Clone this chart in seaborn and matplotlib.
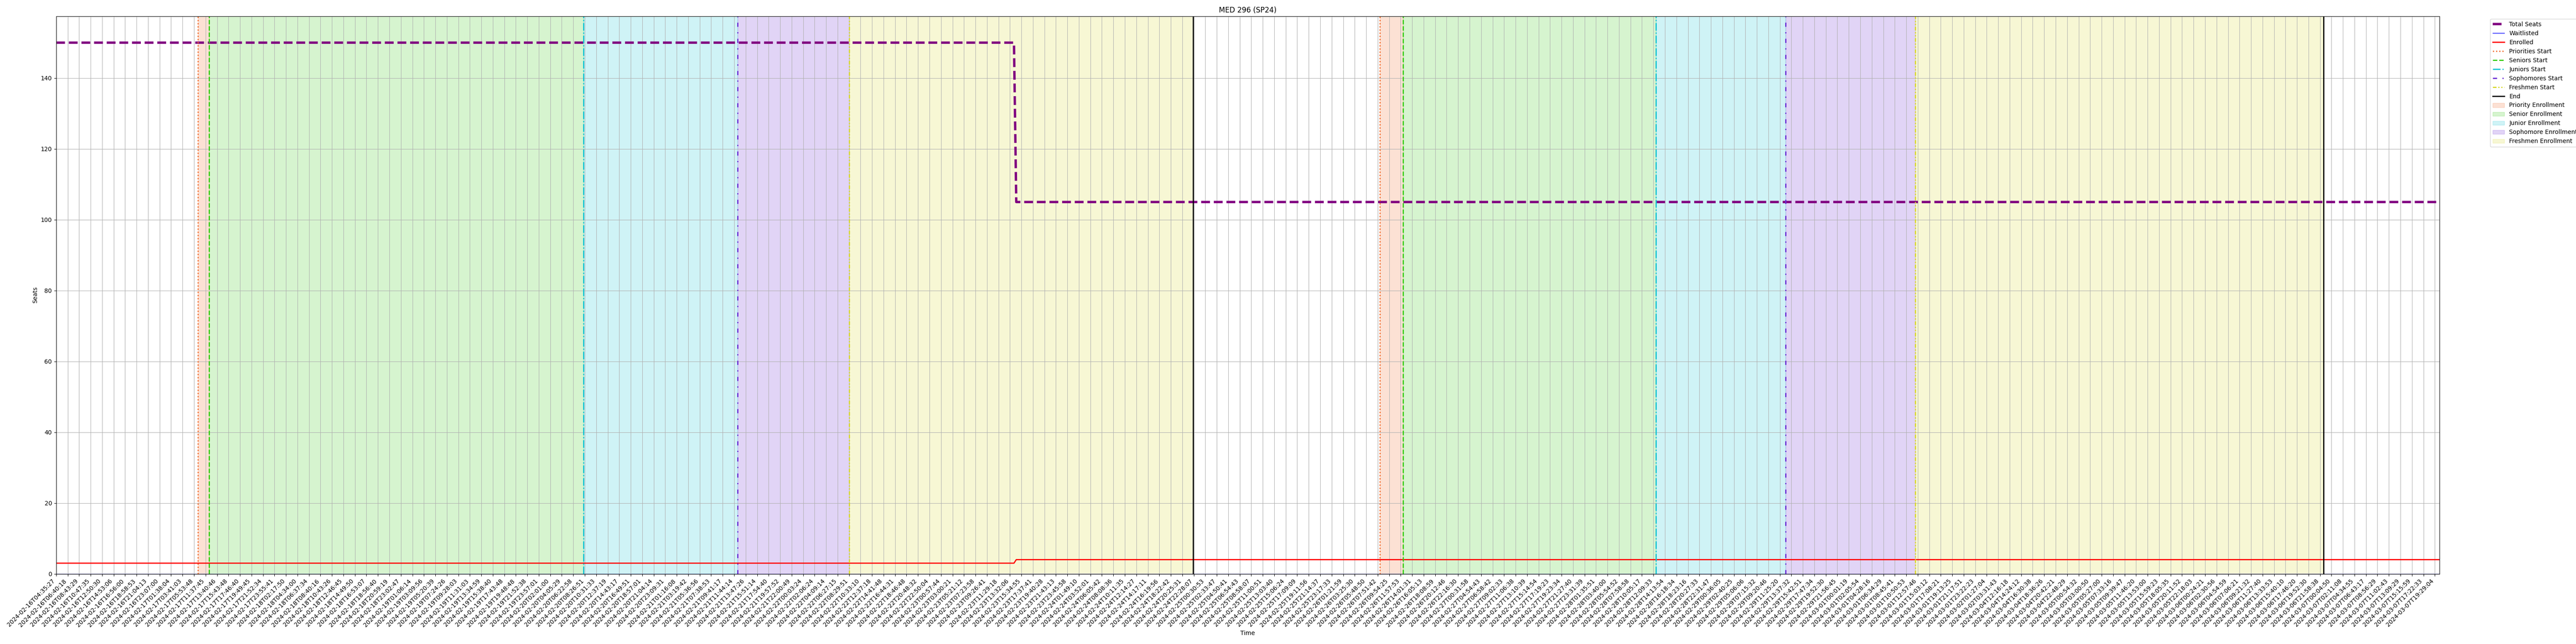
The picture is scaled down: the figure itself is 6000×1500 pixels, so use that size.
import matplotlib
matplotlib.use("Agg")
import matplotlib.pyplot as plt
import seaborn as sns
import pandas as pd

# tick labels (one per sample shown on the axis)
tick_labels = [
    "2024-02-16T04:35:27", "2024-02-16T06:40:18", "2024-02-16T08:43:29", "2024-02-16T10:47:35",
    "2024-02-16T12:50:30", "2024-02-16T14:53:06", "2024-02-16T16:56:00", "2024-02-16T18:58:53",
    "2024-02-16T21:04:13", "2024-02-16T23:07:00", "2024-02-17T01:38:04", "2024-02-17T03:41:03",
    "2024-02-17T05:53:48", "2024-02-17T11:37:45", "2024-02-17T13:40:46", "2024-02-17T15:43:48",
    "2024-02-17T17:46:40", "2024-02-17T19:49:45", "2024-02-17T21:52:34", "2024-02-17T23:55:41",
    "2024-02-18T02:17:50", "2024-02-18T04:34:00", "2024-02-18T06:37:34", "2024-02-18T08:40:16",
    "2024-02-18T10:43:26", "2024-02-18T12:46:45", "2024-02-18T14:49:50", "2024-02-18T16:53:07",
    "2024-02-18T18:56:40", "2024-02-18T20:59:19", "2024-02-18T23:02:47", "2024-02-19T01:06:14",
    "2024-02-19T03:09:56", "2024-02-19T05:20:39", "2024-02-19T07:24:26", "2024-02-19T09:28:03",
    "2024-02-19T11:31:03", "2024-02-19T13:34:59", "2024-02-19T15:38:40", "2024-02-19T17:43:48",
    "2024-02-19T19:48:48", "2024-02-19T21:52:38", "2024-02-19T23:57:01", "2024-02-20T02:01:00",
    "2024-02-20T04:05:29", "2024-02-20T06:22:58", "2024-02-20T08:26:51", "2024-02-20T10:31:33",
    "2024-02-20T12:37:19", "2024-02-20T14:43:17", "2024-02-20T16:49:51", "2024-02-20T18:57:01",
    "2024-02-20T21:04:14", "2024-02-20T23:09:31", "2024-02-21T01:16:08", "2024-02-21T03:19:42",
    "2024-02-21T05:36:56", "2024-02-21T07:38:53", "2024-02-21T09:41:17", "2024-02-21T11:44:14",
    "2024-02-21T13:47:26", "2024-02-21T15:51:14", "2024-02-21T17:54:40", "2024-02-21T19:57:52",
    "2024-02-21T22:00:49", "2024-02-22T00:03:24", "2024-02-22T02:06:24", "2024-02-22T04:09:14",
    "2024-02-22T06:27:15", "2024-02-22T08:29:51", "2024-02-22T10:33:10", "2024-02-22T12:37:18",
    "2024-02-22T14:41:48", "2024-02-22T16:44:31", "2024-02-22T18:46:48", "2024-02-22T20:48:32",
    "2024-02-22T22:50:04", "2024-02-23T00:57:44", "2024-02-23T03:00:21", "2024-02-23T05:21:12",
    "2024-02-23T07:23:58", "2024-02-23T09:26:41", "2024-02-23T11:29:18", "2024-02-23T13:32:06",
    "2024-02-23T15:34:55", "2024-02-23T17:37:41", "2024-02-23T19:40:28", "2024-02-23T21:43:13",
    "2024-02-23T23:45:58", "2024-02-24T01:49:10", "2024-02-24T03:52:01", "2024-02-24T06:05:42",
    "2024-02-24T08:08:36", "2024-02-24T10:11:35", "2024-02-24T12:14:27", "2024-02-24T14:17:11",
    "2024-02-24T16:19:56", "2024-02-24T18:22:42", "2024-02-24T20:25:31", "2024-02-24T22:28:07",
    "2024-02-25T00:30:53", "2024-02-25T02:33:47", "2024-02-25T04:50:41", "2024-02-25T06:54:43",
    "2024-02-25T08:58:07", "2024-02-25T11:00:51", "2024-02-25T13:03:40", "2024-02-25T15:06:24",
    "2024-02-25T17:09:09", "2024-02-25T19:11:56", "2024-02-25T21:14:37", "2024-02-25T23:17:33",
    "2024-02-26T01:21:59", "2024-02-26T03:25:30", "2024-02-26T05:48:50", "2024-02-26T07:51:42",
    "2024-02-26T09:54:25", "2024-02-26T11:57:53", "2024-02-26T14:01:31", "2024-02-26T16:05:13",
    "2024-02-26T18:08:59", "2024-02-26T20:12:46", "2024-02-26T22:16:30", "2024-02-27T00:31:58",
    "2024-02-27T04:54:43", "2024-02-27T06:58:42", "2024-02-27T09:02:33", "2024-02-27T11:06:38",
    "2024-02-27T13:10:39", "2024-02-27T15:14:54", "2024-02-27T17:19:23", "2024-02-27T19:23:34",
    "2024-02-27T21:27:40", "2024-02-27T23:31:39", "2024-02-28T01:35:51", "2024-02-28T03:40:00",
    "2024-02-28T05:54:52", "2024-02-28T07:58:58", "2024-02-28T10:05:17", "2024-02-28T12:09:33",
    "2024-02-28T14:13:54", "2024-02-28T16:18:34", "2024-02-28T18:23:16", "2024-02-28T20:27:33",
    "2024-02-28T22:31:47", "2024-02-29T00:36:05", "2024-02-29T02:40:25", "2024-02-29T05:06:06",
    "2024-02-29T07:15:32", "2024-02-29T09:20:46", "2024-02-29T11:25:20", "2024-02-29T13:37:32",
    "2024-02-29T15:42:51", "2024-02-29T17:47:34", "2024-02-29T19:52:30", "2024-02-29T21:56:45",
    "2024-03-01T00:01:19", "2024-03-01T02:05:54", "2024-03-01T04:28:16", "2024-03-01T06:34:29",
    "2024-03-01T08:45:41", "2024-03-01T10:50:53", "2024-03-01T12:57:46", "2024-03-01T15:03:12",
    "2024-03-01T17:08:21", "2024-03-01T19:13:25", "2024-03-01T21:17:51", "2024-03-01T23:22:23",
    "2024-03-02T01:27:04", "2024-03-02T03:31:43", "2024-03-04T12:16:18", "2024-03-04T14:24:12",
    "2024-03-04T16:30:38", "2024-03-04T18:36:26", "2024-03-04T20:42:21", "2024-03-04T22:48:29",
    "2024-03-05T00:54:32", "2024-03-05T03:00:50", "2024-03-05T05:27:00", "2024-03-05T07:33:16",
    "2024-03-05T09:39:47", "2024-03-05T11:46:20", "2024-03-05T13:53:00", "2024-03-05T15:59:23",
    "2024-03-05T18:05:35", "2024-03-05T20:11:52", "2024-03-05T22:18:03", "2024-03-06T00:24:21",
    "2024-03-06T02:30:56", "2024-03-06T04:54:59", "2024-03-06T07:06:21", "2024-03-06T09:21:32",
    "2024-03-06T11:27:40", "2024-03-06T13:33:53", "2024-03-06T15:40:10", "2024-03-06T17:46:20",
    "2024-03-06T19:52:30", "2024-03-06T21:58:38", "2024-03-07T00:04:50", "2024-03-07T02:11:08",
    "2024-03-07T04:34:55", "2024-03-07T06:43:17", "2024-03-07T08:56:29", "2024-03-07T11:02:43",
    "2024-03-07T13:09:29", "2024-03-07T15:15:59", "2024-03-07T17:22:33", "2024-03-07T19:29:04",
]

# series, sampled where they change (x in tick-index units)
sample_pos = [0, 83.35, 83.55, 207.4]
total_seats = [150, 150, 105, 105]
enrolled = [3, 3, 4, 4]
waitlisted = [0, 0, 0, 0]

# enrollment phase starts (two registration cycles), x in tick-index units
priority_start = [12.35, 115.2]
senior_start = [13.3, 117.2]
junior_start = [45.9, 139.2]
sophomore_start = [59.3, 150.5]
freshman_start = [69.0, 161.8]
phase_end = [98.95, 197.3]

df = pd.DataFrame({"x": sample_pos, "Total Seats": total_seats,
                   "Enrolled": enrolled, "Waitlisted": waitlisted})

fig, ax = plt.subplots(figsize=(60, 15), dpi=100)
fig.subplots_adjust(left=0.0218, right=0.947, bottom=0.109, top=0.975)

sns.lineplot(data=df, x="x", y="Total Seats", ax=ax, color="purple",
             linestyle="--", linewidth=4, label="Total Seats")
sns.lineplot(data=df, x="x", y="Waitlisted", ax=ax, color="blue",
             linewidth=1, label="Waitlisted")
sns.lineplot(data=df, x="x", y="Enrolled", ax=ax, color="red",
             linewidth=2, label="Enrolled")

# phase colours and line styles
c_pri = "#f26a2a"
c_sen = "#33cc11"
c_jun = "#11c4d4"
c_sop = "#6a2ad4"
c_fre = "#d8d82a"

for i in range(2):
    lab = i == 0
    ax.axvline(priority_start[i], color=c_pri, linestyle=":", linewidth=2,
               label="Priorities Start" if lab else None)
    ax.axvline(senior_start[i], color=c_sen, linestyle="--", linewidth=2,
               label="Seniors Start" if lab else None)
    ax.axvline(junior_start[i], color=c_jun, linestyle="-.", linewidth=2,
               label="Juniors Start" if lab else None)
    ax.axvline(sophomore_start[i], color=c_sop, linestyle=(0, (3.5, 4.5, 1, 4.5)), linewidth=2,
               label="Sophomores Start" if lab else None)
    ax.axvline(freshman_start[i], color=c_fre, linestyle=(0, (3, 1.5, 1, 1.5, 1, 1.5)), linewidth=2,
               label="Freshmen Start" if lab else None)
    ax.axvline(phase_end[i], color="black", linestyle="-", linewidth=2,
               label="End" if lab else None)

for i in range(2):
    lab = i == 0
    ax.axvspan(priority_start[i], senior_start[i], color=c_pri, alpha=0.2,
               label="Priority Enrollment" if lab else None)
    ax.axvspan(senior_start[i], junior_start[i], color=c_sen, alpha=0.2,
               label="Senior Enrollment" if lab else None)
    ax.axvspan(junior_start[i], sophomore_start[i], color=c_jun, alpha=0.2,
               label="Junior Enrollment" if lab else None)
    ax.axvspan(sophomore_start[i], freshman_start[i], color=c_sop, alpha=0.2,
               label="Sophomore Enrollment" if lab else None)
    ax.axvspan(freshman_start[i], phase_end[i], color=c_fre, alpha=0.2,
               label="Freshmen Enrollment" if lab else None)

ax.set_xticks(range(len(tick_labels)))
ax.set_xticklabels(tick_labels, rotation=45, ha="right")
ax.set_xlim(0, sample_pos[-1])
ax.set_ylim(0, 157.5)
ax.grid(True)

ax.set_title("MED 296 (SP24)")
ax.set_xlabel("Time")
ax.set_ylabel("Seats")
ax.legend(loc="upper left", bbox_to_anchor=(1.02, 1))

plt.savefig("out.png")
